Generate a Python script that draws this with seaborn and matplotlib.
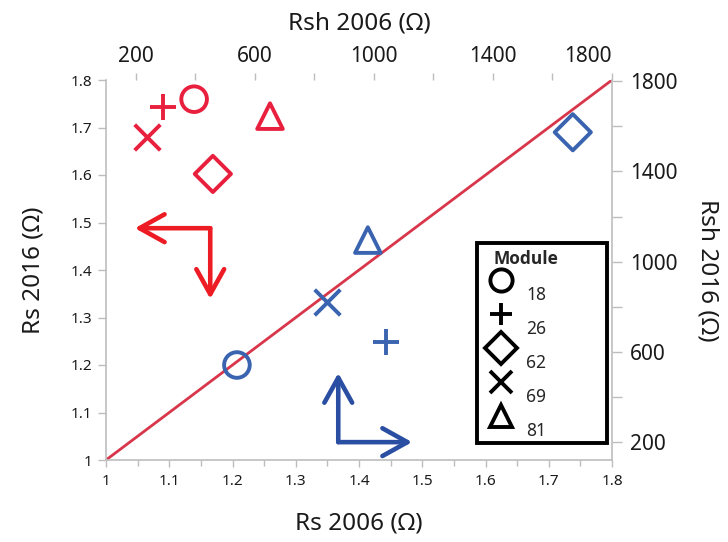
import matplotlib
matplotlib.use("Agg")
import matplotlib.pyplot as plt
import matplotlib.patches as mpatches
import seaborn as sns
import pandas as pd
from matplotlib.lines import Line2D
from matplotlib.ticker import MultipleLocator, FixedLocator

# ---- data ----
modules = ["18", "26", "62", "69", "81"]
markers = ["o", "+", "D", "x", "^"]
rs_2006 = [1.207, 1.443, 1.738, 1.349, 1.414]
rs_2016 = [1.200, 1.248, 1.690, 1.333, 1.463]
rsh_2006 = [396, 291, 459, 238, 651]
rsh_2016 = [1720, 1685, 1389, 1552, 1645]
rs_ticks = [1, 1.1, 1.2, 1.3, 1.4, 1.5, 1.6, 1.7, 1.8]
rs_tick_labels = ["1", "1.1", "1.2", "1.3", "1.4", "1.5", "1.6", "1.7", "1.8"]
rsh_ticks = [200, 600, 1000, 1400, 1800]
rsh_minor = [400, 800, 1200, 1600]
ref_line = [1.0, 1.8]

df = pd.DataFrame({"Module": modules, "marker": markers,
                   "rs06": rs_2006, "rs16": rs_2016,
                   "rsh06": rsh_2006, "rsh16": rsh_2016})

sns.set_theme(style="white")
plt.rcParams["font.family"] = ["Noto Sans", "DejaVu Sans"]

RED = "#E8203E"
BLUE = "#3A64B0"
LINE_RED = "#D8364A"
GREY = "#BDBDBD"
TXT = "#1a1a1a"

W, H = 728, 542
fig = plt.figure(figsize=(W / 100, H / 100), dpi=100)
pos = [106 / W, 1 - 460 / H, 506 / W, 380 / H]
ax = fig.add_axes(pos)
ax2 = fig.add_axes(pos)
ax2.patch.set_visible(False)

# reference line y = x
sns.lineplot(x=ref_line, y=ref_line, ax=ax, color=LINE_RED, lw=2.0, zorder=2)

ms = 340
for _, r in df.iterrows():
    filled = r["marker"] in ("o", "D", "^")
    kw = dict(s=ms, marker=r["marker"], linewidth=2.8, zorder=3)
    if filled:
        sns.scatterplot(x=[r["rs06"]], y=[r["rs16"]], ax=ax,
                        facecolor="none", edgecolor=BLUE, **kw)
        sns.scatterplot(x=[r["rsh06"]], y=[r["rsh16"]], ax=ax2,
                        facecolor="none", edgecolor=RED, **kw)
    else:
        sns.scatterplot(x=[r["rs06"]], y=[r["rs16"]], ax=ax, color=BLUE, **kw)
        sns.scatterplot(x=[r["rsh06"]], y=[r["rsh16"]], ax=ax2, color=RED, **kw)

# main axes (Rs)
ax.set_xlim(1, 1.8)
ax.set_ylim(1, 1.8)
ax.set_xticks(rs_ticks)
ax.set_xticklabels(rs_tick_labels)
ax.set_yticks(rs_ticks)
ax.set_yticklabels(rs_tick_labels)
ax.xaxis.set_minor_locator(MultipleLocator(0.05))
for s in ["left", "bottom", "right"]:
    ax.spines[s].set_visible(True)
    ax.spines[s].set_color(GREY)
    ax.spines[s].set_linewidth(1.2)
ax.spines["top"].set_visible(False)
ax.tick_params(axis="both", which="both", direction="out", color=GREY,
               width=1.0, labelcolor=TXT, labelsize=11)
ax.tick_params(axis="x", which="major", length=5, pad=5, bottom=True)
ax.tick_params(axis="x", which="minor", length=4, bottom=True)
ax.tick_params(axis="y", which="major", length=6, pad=4, left=True)
ax.set_xlabel("Rs 2006 (Ω)", fontsize=17.5, color=TXT, labelpad=16)
ax.set_ylabel("Rs 2016 (Ω)", fontsize=17.5, color=TXT, labelpad=18)
ax.grid(False)

# secondary axes (Rsh)
ax2.set_xlim(100, 1800)
ax2.set_ylim(122, 1805)
for s in ax2.spines.values():
    s.set_visible(False)
ax2.xaxis.tick_top()
ax2.xaxis.set_label_position("top")
ax2.yaxis.tick_right()
ax2.yaxis.set_label_position("right")
ax2.set_xticks(rsh_ticks)
ax2.set_yticks(rsh_ticks)
ax2.xaxis.set_minor_locator(FixedLocator(rsh_minor))
ax2.yaxis.set_minor_locator(FixedLocator(rsh_minor))
ax2.tick_params(axis="both", which="both", direction="out", color=GREY,
                width=1.0, labelcolor=TXT, labelsize=15)
ax2.tick_params(axis="x", which="both", length=5, top=True, bottom=False, pad=4)
ax2.tick_params(axis="y", which="both", length=7, right=True, left=False, pad=6)
ax2.set_xlabel("Rsh 2006 (Ω)", fontsize=17.5, color=TXT, labelpad=12)
ax2.set_ylabel("Rsh 2016 (Ω)", fontsize=17.5, color=TXT, rotation=270, labelpad=30)
ax2.grid(False)
top_labels = ax2.get_xticklabels()
top_labels[-1].set_horizontalalignment("right")

# arrows (annotations, axes-fraction coords)
def L_arrow(corner, tip1, tip2, color):
    for tip in (tip1, tip2):
        ax.annotate("", xy=tip, xytext=corner, xycoords="axes fraction",
                    textcoords="axes fraction",
                    arrowprops=dict(arrowstyle="->, head_length=0.9, head_width=0.5",
                                    color=color, lw=3.3, shrinkA=0, shrinkB=0,
                                    mutation_scale=20, capstyle="round",
                                    joinstyle="round"),
                    zorder=4)

L_arrow((0.206, 0.610), (0.057, 0.610), (0.206, 0.424), "#ED1C24")
L_arrow((0.459, 0.047), (0.459, 0.229), (0.605, 0.047), "#2A4EA2")

# legend frame (drawn separately) + legend content
frame = mpatches.Rectangle((0.733, 0.045), 0.257, 0.526, transform=ax.transAxes,
                           facecolor="white", edgecolor="black", linewidth=2.8,
                           zorder=6, clip_on=False)
ax.add_patch(frame)

handles = []
for m in markers:
    if m in ("o", "D", "^"):
        h = Line2D([], [], linestyle="none", marker=m, markersize=16,
                   markerfacecolor="none", markeredgecolor="black", markeredgewidth=2.8)
    else:
        h = Line2D([], [], linestyle="none", marker=m, markersize=16,
                   color="black", markeredgewidth=2.8)
    handles.append(h)
leg = ax.legend(handles, modules, title="Module", loc="upper left",
                bbox_to_anchor=(0.757, 0.584), frameon=False, fontsize=12.5,
                labelspacing=0.92, handletextpad=0.75, borderpad=0,
                borderaxespad=0, alignment="left", handlelength=1.4)
title = leg.get_title()
title.set_family(["Open Sans", "DejaVu Sans"])
title.set_fontweight("bold")
title.set_fontsize(12.5)
title.set_y(-12)
title.set_x(4)
for t in leg.get_texts():
    t.set_y(-14)
leg.set_zorder(7)

fig.savefig("out.png", dpi=100)
